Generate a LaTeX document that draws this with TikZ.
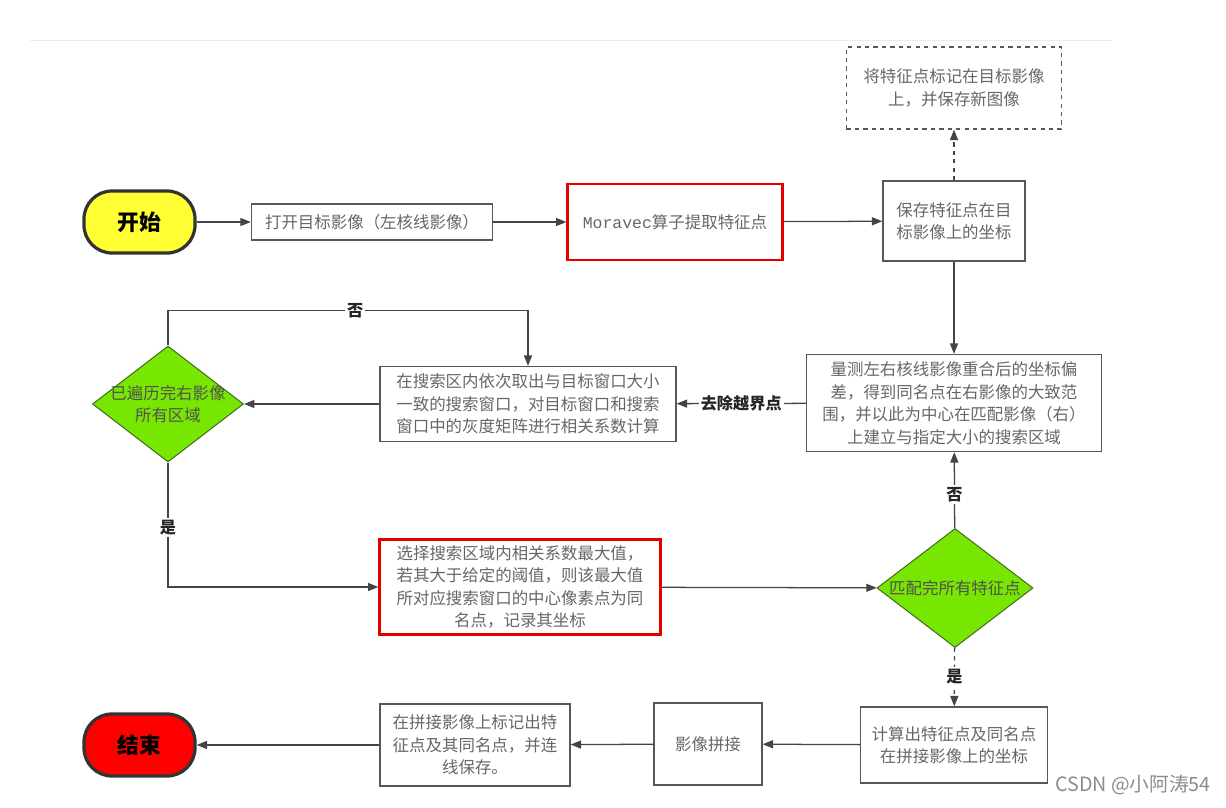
\documentclass[tikz,border=0pt]{standalone}
\usepackage{fontspec}
\setmainfont{Noto Sans CJK SC}
\newfontfamily\latinmono{Liberation Mono}
\usepackage{tikz}
\usetikzlibrary{positioning}
\usetikzlibrary{arrows.meta,calc}
\usetikzlibrary{shapes.geometric}
\definecolor{linegray}{HTML}{444444}
\definecolor{textgray}{HTML}{666666}
\definecolor{startyellow}{HTML}{FFFF33}
\definecolor{endred}{HTML}{FF0000}
\definecolor{decgreen}{HTML}{77E600}
\definecolor{decedge}{HTML}{3F6A1E}
\tikzstyle{terminal} = [rectangle, rounded corners=0.7cm, minimum width=2.775cm, minimum height=1.55cm, draw=black!80, line width=2.3pt, font=\fontsize{15.5}{18}\selectfont\bfseries]
\tikzstyle{process} = [rectangle, inner sep=0pt, draw=linegray!90, line width=0.9pt, text=textgray, align=center, font=\fontsize{11.7}{16}\selectfont]
\tikzstyle{keybox} = [process, draw=red!90!black, line width=1.5pt]
\tikzstyle{decision} = [diamond, inner sep=0pt, draw=decedge, line width=0.7pt, fill=decgreen]
\tikzstyle{dtext} = [align=center, text=textgray!80!black, font=\fontsize{11.7}{16}\selectfont]
\tikzstyle{arrow} = [line width=0.9pt, draw=linegray, -{Triangle[length=2.6mm,width=2mm]}]
\tikzstyle{branch} = [fill=white, inner sep=1.5pt, text=black!85, font=\fontsize{11.5}{13}\selectfont\bfseries]

\begin{document}
\begin{tikzpicture}[x=0.025cm, y=-0.025cm]
\useasboundingbox (0,0) rectangle (1226,808);
\draw [black!8, line width=0.6pt] (30,40) -- (1112,40);
% top row
\node (start) [terminal, fill=startyellow] at (139.5,222) {开始};
\node (open) [process, minimum width=6.025cm, minimum height=0.9cm] at (372,222) {打开目标影像（左核线影像）};
\node (moravec) [keybox, minimum width=5.375cm, minimum height=1.9cm] at (675,222) {{\latinmono Moravec}算子提取特征点};
\node (save) [process, minimum width=3.55cm, minimum height=2cm] at (954,221) {保存特征点在目\\标影像上的坐标};
\node (mark) [process, dashed, minimum width=5.375cm, minimum height=2.05cm] at (954,88) {将特征点标记在目标影像\\上，并保存新图像};
% search loop
\node (measure) [process, minimum width=7.375cm, minimum height=2.425cm] at (954,403) {量测左右核线影像重合后的坐标偏\\差，得到同名点在右影像的大致范\\围，并以此为中心在匹配影像（右）\\上建立与指定大小的搜索区域};
\node (search) [process, minimum width=7.4cm, minimum height=1.875cm] at (528,404) {在搜索区内依次取出与目标窗口大小\\一致的搜索窗口，对目标窗口和搜索\\窗口中的灰度矩阵进行相关系数计算};
\node (done1) [decision, minimum width=3.775cm, minimum height=2.9cm, label={[dtext]center:{已遍历完右影像\\所有区域}}] at (168,404) {};
\node (best) [keybox, minimum width=7.025cm, minimum height=2.375cm] at (520,587) {选择搜索区域内相关系数最大值，\\若其大于给定的阈值，则该最大值\\所对应搜索窗口的中心像素点为同\\名点，记录其坐标};
\node (done2) [decision, minimum width=3.9cm, minimum height=2.975cm, label={[dtext]center:匹配完所有特征点}] at (955,588) {};
% bottom row
\node (calc) [process, minimum width=4.675cm, minimum height=1.9cm] at (954,745) {计算出特征点及同名点\\在拼接影像上的坐标};
\node (stitch) [process, minimum width=2.7cm, minimum height=2.05cm] at (708,744) {影像拼接};
\node (link) [process, minimum width=4.75cm, minimum height=2.05cm] at (475,745) {在拼接影像上标记出特\\征点及其同名点，并连\\线保存。};
\node (end) [terminal, fill=endred] at (139.5,745) {结束};
\node (csdn) [text=black!45, font=\fontsize{14}{16}\selectfont] at (1133,785) {CSDN @小阿涛54};

\draw [arrow] (start) -- (open);
\draw [arrow] (open) -- (moravec);
\draw [arrow] (moravec) -- (save);
\draw [arrow, dashed] (save) -- (mark);
\draw [arrow] (save) -- (measure);
\draw [arrow] (measure) -- node[branch] {去除越界点} (search);
\draw [arrow] (search) -- (done1);
\draw [arrow] (done1.north) -- ++(0,-35) -| node[branch, pos=0.26] {否} (search.north);
\draw [arrow] (done1.south) |- node[branch, pos=0.26] {是} (best.west);
\draw [arrow] (best) -- (done2);
\draw [arrow] (done2) -- node[branch, pos=0.44] {否} (measure);
\draw [arrow, dashed] (done2) -- node[branch] {是} (calc);
\draw [arrow] (calc) -- (stitch);
\draw [arrow] (stitch) -- (link);
\draw [arrow] (link) -- (end);
\end{tikzpicture}
\end{document}
